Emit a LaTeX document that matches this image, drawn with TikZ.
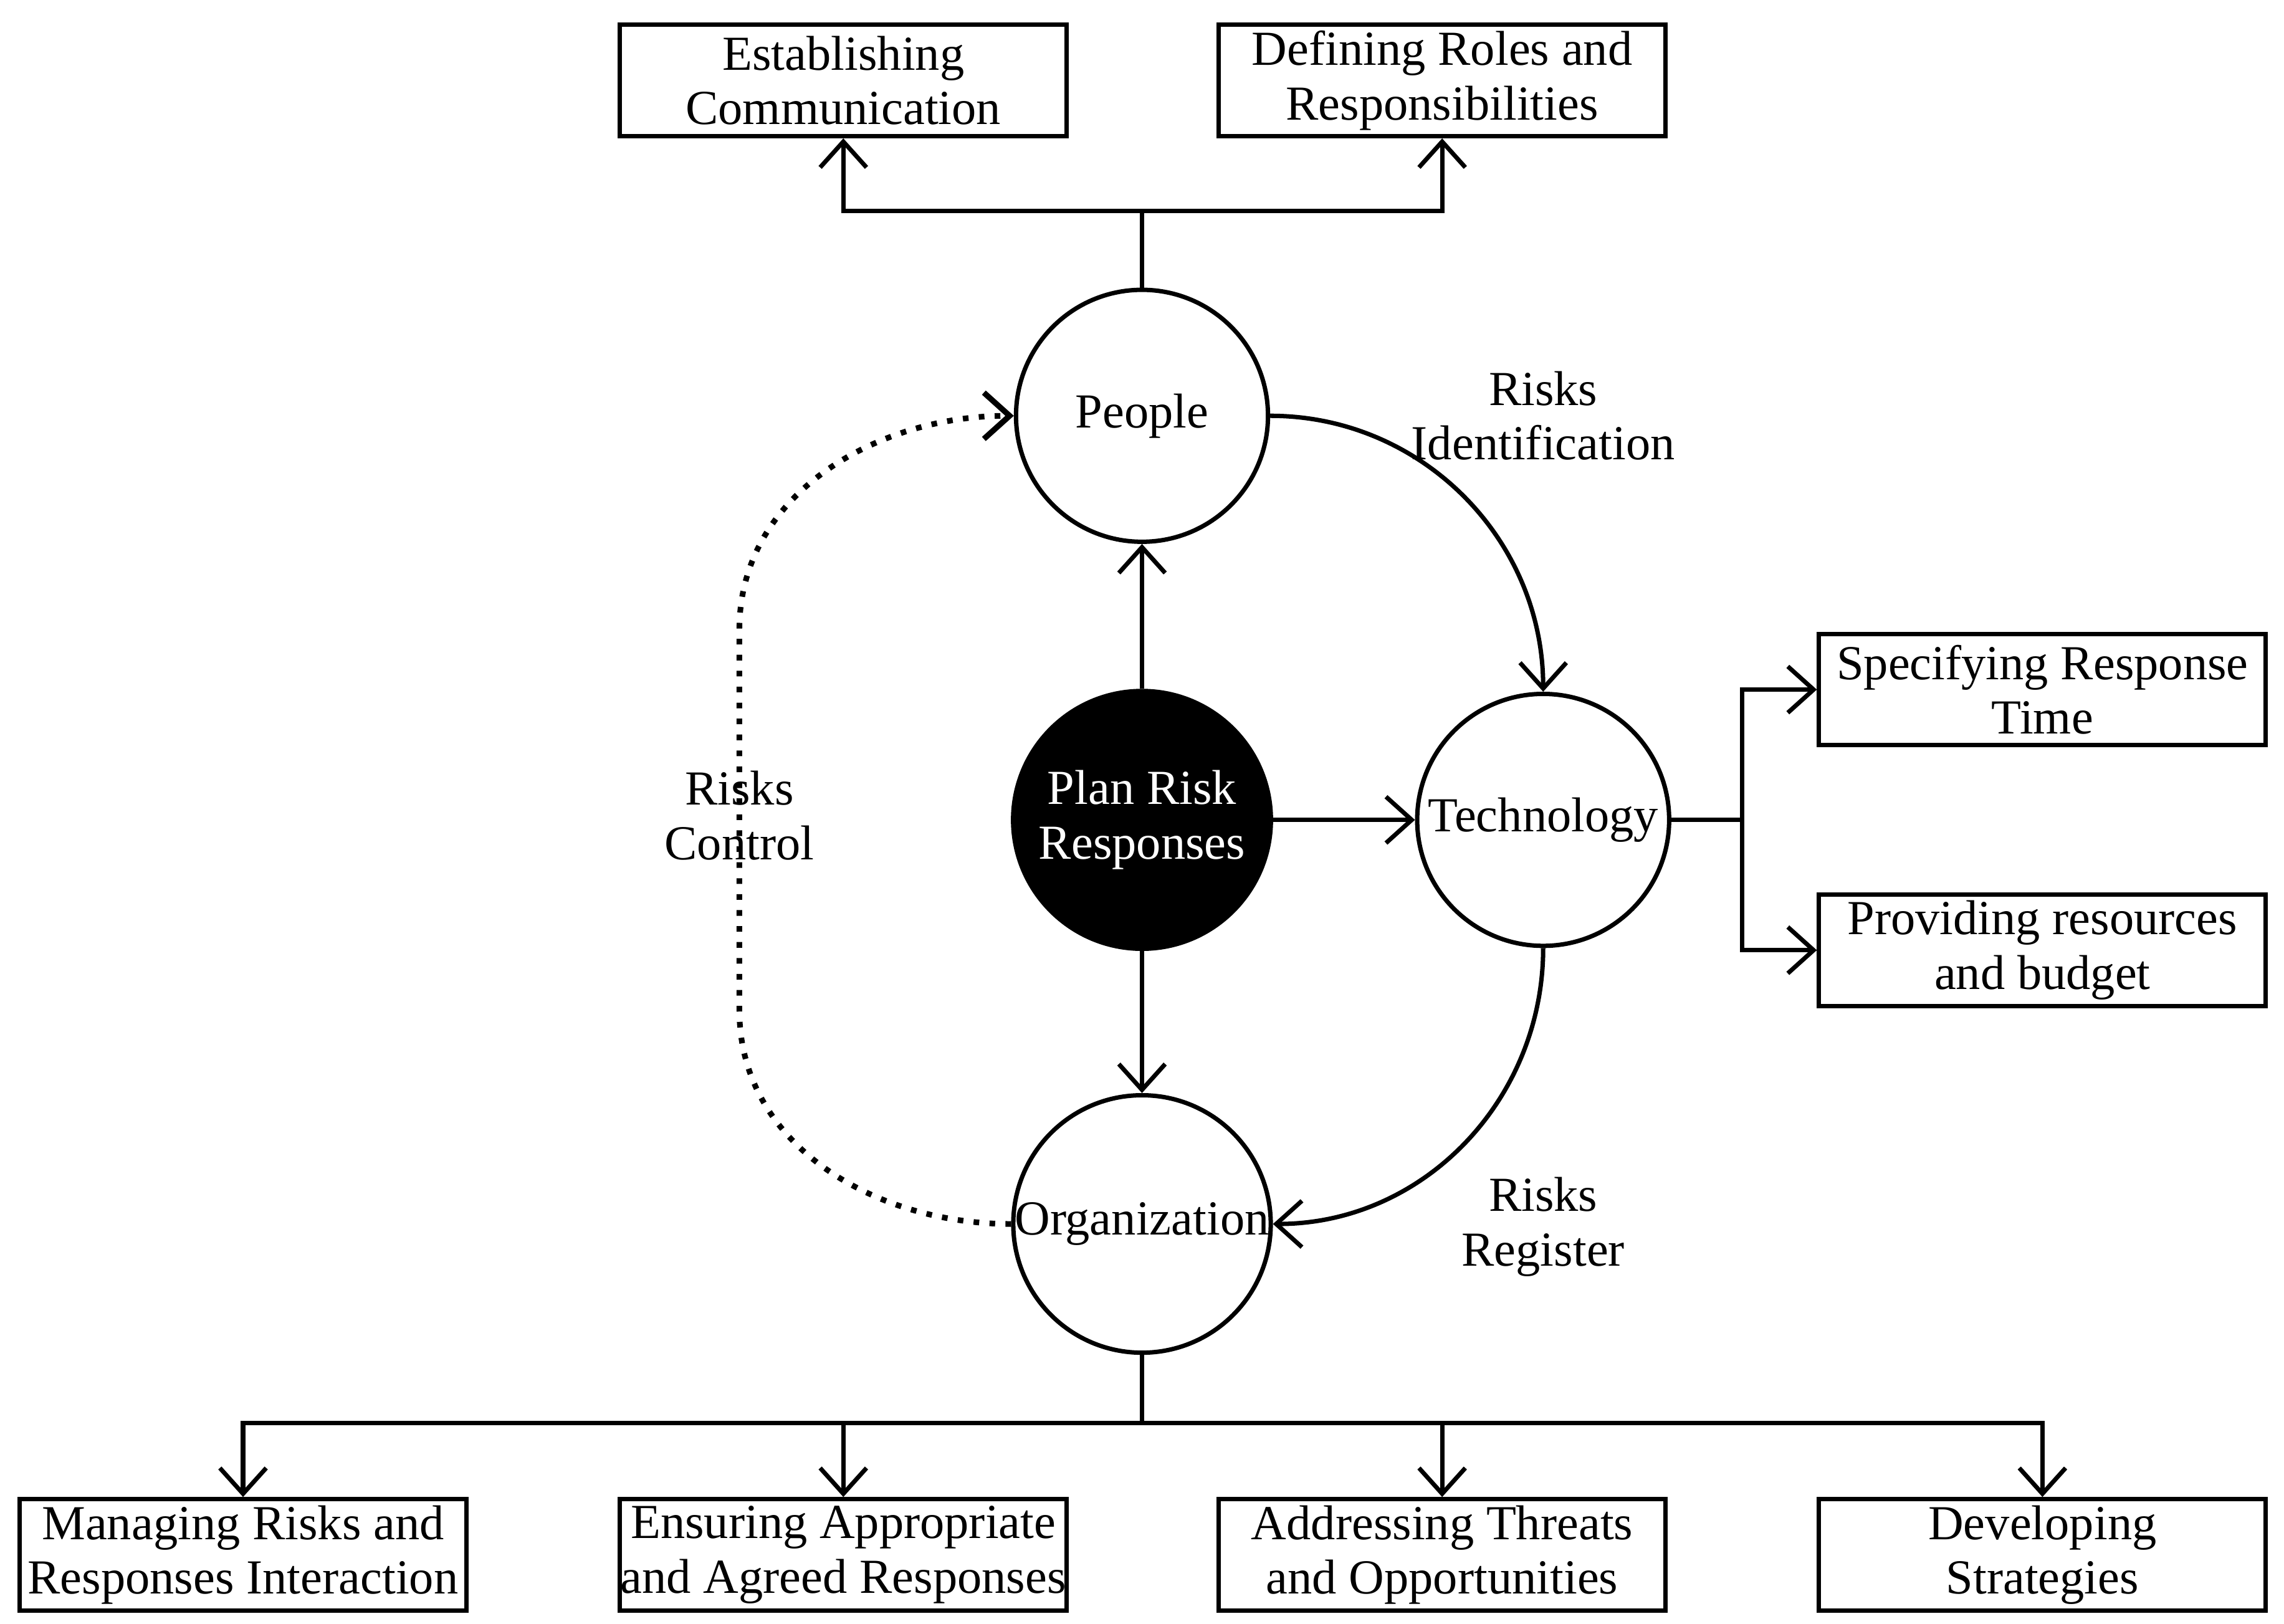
\documentclass[tikz,border=0pt]{standalone}
\usepackage{fontspec}
\setmainfont{Liberation Serif}
\usetikzlibrary{arrows.meta}
\begin{document}
\begin{tikzpicture}[x=0.01cm,y=-0.01cm,line width=0.85pt,>={Straight Barb[length=5pt,width=9pt]},
  every node/.style={font=\fontsize{9.5}{10.6}\selectfont,align=center},
  hub/.style={circle,draw,minimum size=1.72cm,inner sep=0pt},
  task/.style={rectangle,draw,minimum width=3.05cm,minimum height=0.76cm,inner sep=0pt}]
  \useasboundingbox (0,0) rectangle (1560,1109);
  % circles
  \node[hub] (peo) at (780,284) {People};
  \node[hub,fill=black,text=white,minimum size=1.76cm] (plan) at (780,560) {Plan Risk\\Responses};
  \node[hub] (tech) at (1054,560) {Technology};
  \node[hub] (org) at (780,836) {Organization};
  % boxes
  \node[task] (est) at (576,55) {Establishing\\Communication};
  \node[task] (def) at (985,55) {Defining Roles and\\Responsibilities};
  \node[task] (spe) at (1395,471) {Specifying Response\\Time};
  \node[task] (pro) at (1395,649) {Providing resources\\and budget};
  \node[task] (man) at (166,1062) {Managing Risks and\\Responses Interaction};
  \node[task] (ens) at (576,1062) {Ensuring Appropriate\\and Agreed Responses};
  \node[task] (add) at (985,1062) {Addressing Threats\\and Opportunities};
  \node[task] (dev) at (1395,1062) {Developing\\Strategies};
  % center links
  \draw[->] (plan) -- (peo);
  \draw[->] (plan) -- (tech);
  \draw[->] (plan) -- (org);
  % cycle
  \draw[->] (peo.east) to[out=0,in=90] (tech.north);
  \draw[->] (tech.south) to[out=-90,in=0] (org.east);
  \draw[->,dotted,line width=1.1pt] (org.west) to[out=180,in=-90] (505,690) -- (505,430) to[out=90,in=180] (peo.west);
  \node at (1054,284) {Risks\\Identification};
  \node at (1054,838) {Risks\\Register};
  \node at (505,557) {Risks\\Control};
  % branches
  \coordinate (pt) at (780,144);
  \draw (peo.north) -- (pt);
  \draw[->] (pt) -| (est.south);
  \draw[->] (pt) -| (def.south);
  \coordinate (tr) at (1190,560);
  \draw (tech.east) -- (tr);
  \draw[->] (tr) |- (spe.west);
  \draw[->] (tr) |- (pro.west);
  \coordinate (ob) at (780,972);
  \draw (org.south) -- (ob);
  \foreach \b in {man,ens,add,dev} \draw[->] (ob) -| (\b.north);
\end{tikzpicture}
\end{document}
